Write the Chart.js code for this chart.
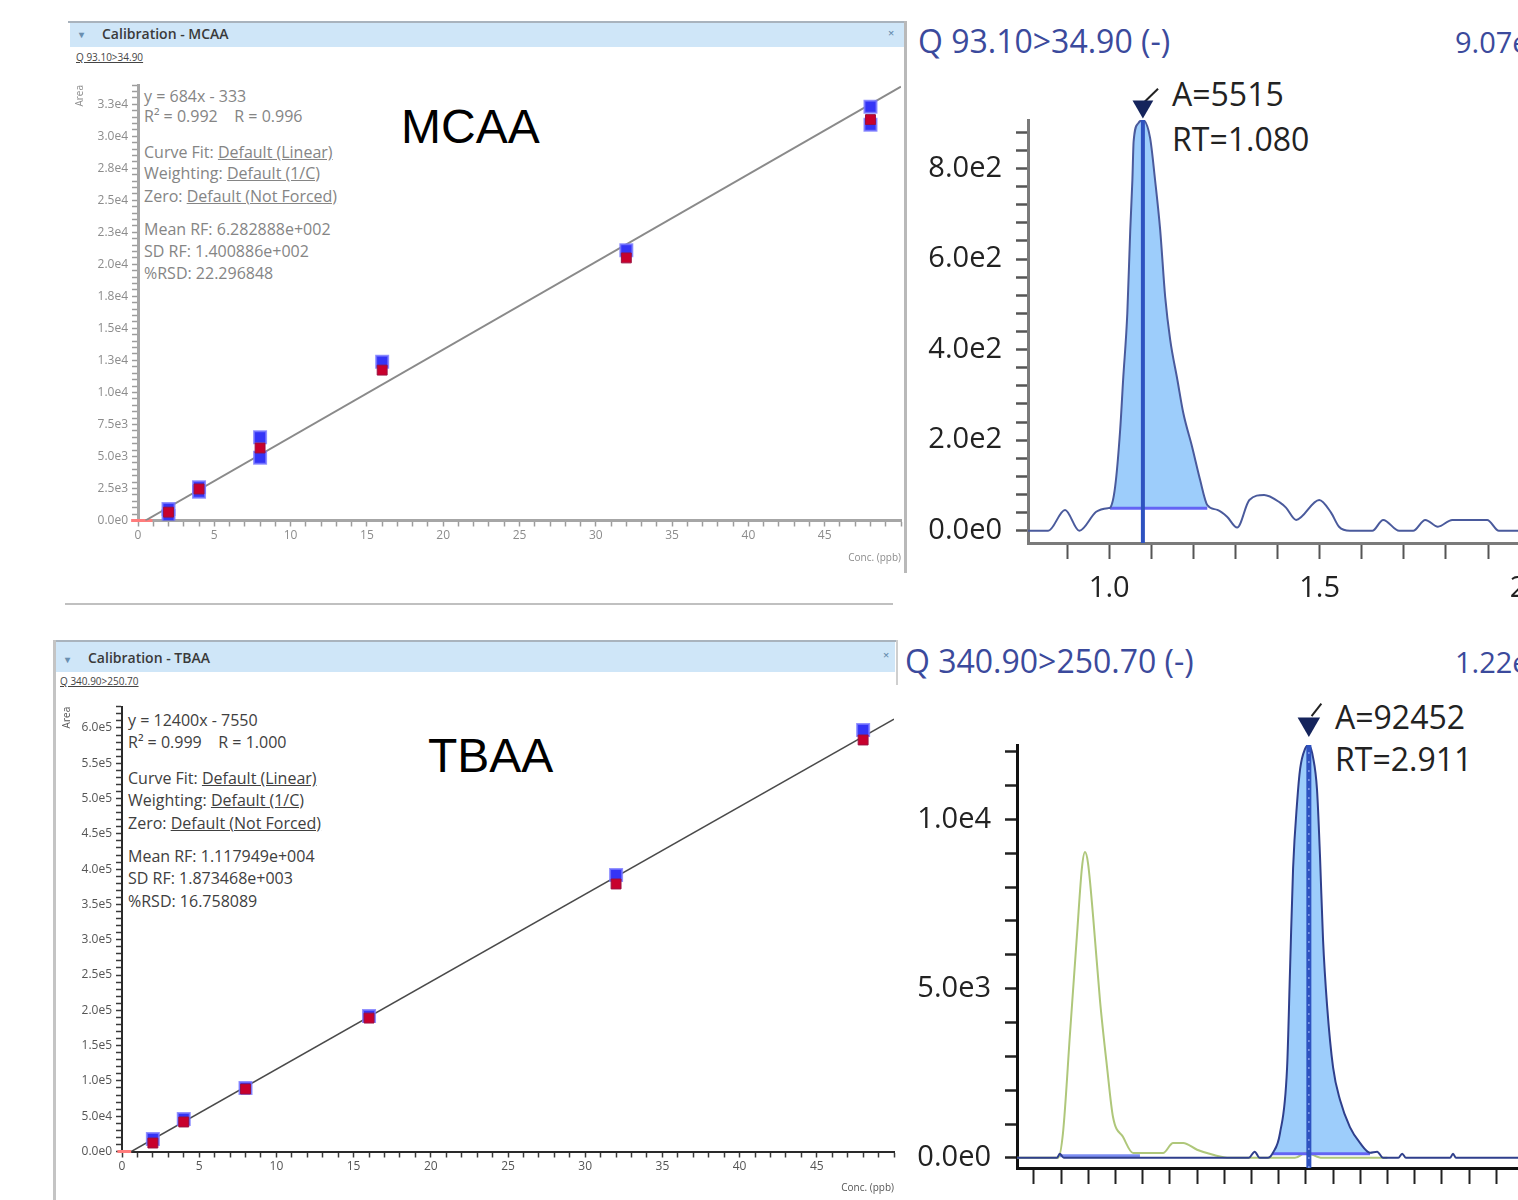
<!DOCTYPE html>
<html>
<head>
<meta charset="utf-8">
<title>MCAA / TBAA calibration and chromatograms</title>
<script src="https://cdn.jsdelivr.net/npm/chart.js@4.4.1/dist/chart.umd.min.js"></script>
<style>
  html, body { margin: 0; padding: 0; background: #fff; }
  #page { position: relative; width: 1518px; height: 1200px; overflow: hidden; font-family: 'Open Sans', sans-serif; }
  #page canvas, .abs { position: absolute; }
  .hdr { font-size: 14px; line-height: 14px; color: #3a3a3a; font-weight: 600; white-space: nowrap; }
  .qsub { font-size: 10px; line-height: 10px; color: #444; text-decoration: underline; white-space: nowrap; }
  .info { font-size: 16px; line-height: 16px; white-space: nowrap; }
  .mcaa-info { color: #858585; }
  .tbaa-info { color: #404040; }
  .big { font-family: 'Liberation Sans', Arial, sans-serif; font-size: 48px; line-height: 48px; color: #000; }
  .chromTitle { font-size: 32px; line-height: 32px; color: #3b4a9c; white-space: nowrap; }
  .peakTxt { font-size: 32px; line-height: 32px; color: #222; white-space: nowrap; }
</style>
</head>
<body>
<div id="page">
  <!-- MCAA calibration panel chrome -->
  <div class="abs" style="left:68px;top:21px;width:838px;height:2px;background:#a9b3bd"></div>
  <div class="abs" style="left:70px;top:23px;width:834px;height:24px;background:#cfe6f8"></div>
  <div class="abs hdr" style="left:79px;top:27px;font-size:10px;color:#6a8fb0">&#9662;</div>
  <div class="abs hdr" style="left:102px;top:27px">Calibration - MCAA</div>
  <div class="abs hdr" style="left:888px;top:26px;font-size:11px;color:#6a8fb0">&#215;</div>
  <div class="abs qsub" style="left:76px;top:52px">Q 93.10&gt;34.90</div>
  <div class="abs" style="left:904px;top:21px;width:3px;height:552px;background:#b9b9b9"></div>
  <div class="abs" style="left:65px;top:603px;width:828px;height:2px;background:#c0c0c0"></div>

  <div class="abs info mcaa-info" style="left:144px;top:87.5px">y = 684x - 333</div>
  <div class="abs info mcaa-info" style="left:144px;top:107.5px">R&sup2; = 0.992 &nbsp;&nbsp; R = 0.996</div>
  <div class="abs info mcaa-info" style="left:144px;top:143.5px">Curve Fit: <u>Default (Linear)</u></div>
  <div class="abs info mcaa-info" style="left:144px;top:164.5px">Weighting: <u>Default (1/C)</u></div>
  <div class="abs info mcaa-info" style="left:144px;top:187.5px">Zero: <u>Default (Not Forced)</u></div>
  <div class="abs info mcaa-info" style="left:144px;top:220.5px">Mean RF: 6.282888e+002</div>
  <div class="abs info mcaa-info" style="left:144px;top:242.5px">SD RF: 1.400886e+002</div>
  <div class="abs info mcaa-info" style="left:144px;top:264.5px">%RSD: 22.296848</div>
  <div class="abs big" style="left:401px;top:102.5px">MCAA</div>

  <!-- TBAA calibration panel chrome -->
  <div class="abs" style="left:53px;top:640px;width:843px;height:2px;background:#a9b3bd"></div>
  <div class="abs" style="left:55px;top:642px;width:840px;height:30px;background:#cfe6f8"></div>
  <div class="abs" style="left:53px;top:640px;width:3px;height:560px;background:#c4c4c4"></div>
  <div class="abs hdr" style="left:65px;top:652px;font-size:10px;color:#6a8fb0">&#9662;</div>
  <div class="abs hdr" style="left:88px;top:651px">Calibration - TBAA</div>
  <div class="abs hdr" style="left:883px;top:648px;font-size:11px;color:#6a8fb0">&#215;</div>
  <div class="abs qsub" style="left:60px;top:676px">Q 340.90&gt;250.70</div>

  <div class="abs info tbaa-info" style="left:128px;top:711.5px">y = 12400x - 7550</div>
  <div class="abs info tbaa-info" style="left:128px;top:733.5px">R&sup2; = 0.999 &nbsp;&nbsp; R = 1.000</div>
  <div class="abs info tbaa-info" style="left:128px;top:769.5px">Curve Fit: <u>Default (Linear)</u></div>
  <div class="abs info tbaa-info" style="left:128px;top:791.5px">Weighting: <u>Default (1/C)</u></div>
  <div class="abs info tbaa-info" style="left:128px;top:814.5px">Zero: <u>Default (Not Forced)</u></div>
  <div class="abs info tbaa-info" style="left:128px;top:847.5px">Mean RF: 1.117949e+004</div>
  <div class="abs info tbaa-info" style="left:128px;top:869.5px">SD RF: 1.873468e+003</div>
  <div class="abs info tbaa-info" style="left:128px;top:892.5px">%RSD: 16.758089</div>
  <div class="abs big" style="left:428px;top:731.5px">TBAA</div>

  <!-- chromatogram captions -->
  <div class="abs chromTitle" style="left:918px;top:25px">Q 93.10&gt;34.90 (-)</div>
  <div class="abs chromTitle" style="left:1455px;top:26px;font-size:29px">9.07e2</div>
  <div class="abs peakTxt" style="left:1172px;top:78px">A=5515</div>
  <div class="abs peakTxt" style="left:1172px;top:123px">RT=1.080</div>
  <div class="abs" style="left:896px;top:640px;width:2px;height:45px;background:#cfcfcf"></div>
  <div class="abs chromTitle" style="left:905px;top:645px">Q 340.90&gt;250.70 (-)</div>
  <div class="abs chromTitle" style="left:1455px;top:646px;font-size:29px">1.22e4</div>
  <div class="abs peakTxt" style="left:1335px;top:701px">A=92452</div>
  <div class="abs peakTxt" style="left:1335px;top:743px">RT=2.911</div>

  <canvas id="mcaaCal" width="850" height="510" style="left:60px;top:70px"></canvas>
  <canvas id="tbaaCal" width="855" height="510" style="left:45px;top:690px"></canvas>
  <canvas id="mcaaChrom" width="700" height="540" style="left:905px;top:70px"></canvas>
  <canvas id="tbaaChrom" width="700" height="550" style="left:895px;top:690px"></canvas>
</div>

<script>
// ---- calibration data (conc in ppb, peak area) ----
const mcaaBlueConc = [2, 2, 4, 4, 8, 8, 16, 32, 48, 48];
const mcaaBlueArea = [900, 350, 2600, 2250, 6500, 4900, 12400, 21100, 32300, 30900];
const mcaaRedConc = [2, 4, 8, 16, 32, 48];
const mcaaRedArea = [650, 2460, 5660, 11740, 20500, 31300];
const mcaaFit = [684, -333];          // slope, intercept

const tbaaBlueConc = [2, 4, 8, 16, 32, 48];
const tbaaBlueArea = [17700, 46000, 90000, 192000, 391800, 597000];
const tbaaRedConc = [2, 4, 8, 16, 32, 48];
const tbaaRedArea = [12000, 41800, 88500, 189000, 379000, 583000];
const tbaaFit = [12400, -7550];

// ---- chromatograms (time in min, intensity) ----
const mcaaTime = [0.807, 0.855, 0.895, 0.929, 0.969, 0.998, 1.002, 1.014, 1.026, 1.033, 1.043, 1.050, 1.055,
  1.058, 1.069, 1.080, 1.097, 1.109, 1.121, 1.133, 1.145, 1.162, 1.176, 1.197, 1.216, 1.233, 1.257, 1.280,
  1.304, 1.333, 1.368, 1.406, 1.420, 1.444, 1.499, 1.527, 1.546, 1.572, 1.625, 1.651, 1.689, 1.722, 1.751,
  1.781, 1.815, 1.898, 1.926, 2.000, 2.200];
const mcaaIntensity = [0, 0, 46, 0, 42, 50, 51, 97, 223, 333, 481, 665, 774,
  860, 900, 907, 868, 774, 665, 516, 421, 333, 260, 185, 112, 57, 46, 31,
  7, 68, 79, 62, 51, 24, 68, 40, 9, 0, 0, 24, 0, 0, 24,
  9, 24, 24, 0, 0, 0];
const mcaaPeak = [1.002, 1.233, 50];  // start, end, baseline level
const mcaaRT = 1.080;
const mcaaMarker = [937];
const mcaaCheckTime = [1.083, 1.116];
const mcaaCheckInt = [946, 976];

const tbaaTime = [1.838, 1.985, 1.995, 2.010, 2.690, 2.712, 2.730, 2.760, 2.779, 2.805, 2.831, 2.842, 2.853,
  2.868, 2.879, 2.897, 2.911, 2.926, 2.941, 2.952, 2.963, 2.978, 3.000, 3.026, 3.062, 3.099, 3.136, 3.162,
  3.184, 3.240, 3.254, 3.268, 3.430, 3.441, 3.452, 4.000];
const tbaaIntensity = [0, 0, 120, 0, 0, 180, 0, 0, 150, 735, 2675, 5615, 8555,
  10525, 11500, 12085, 12200, 11850, 10880, 8910, 6470, 4500, 2675, 1700, 910, 440, 150, 180,
  0, 0, 120, 0, 0, 120, 0, 0];
const tbaaGreenTime = [1.838, 1.989, 2.007, 2.033, 2.059, 2.077, 2.088, 2.099, 2.118, 2.143, 2.169, 2.191,
  2.228, 2.265, 2.375, 2.412, 2.449, 2.500, 2.559, 2.620, 2.860, 2.900, 2.960, 3.200];
const tbaaGreenIntensity = [0, 0, 733, 3688, 6643, 8593, 9036, 8711, 7116, 4663, 2683, 1206,
  615, 142, 142, 440, 440, 240, 90, 0, 0, 150, 0, 0];
const tbaaPeak = [2.779, 3.136, 120];
const tbaaRT = 2.911;
const tbaaMarker = [12820];
const tbaaCheckTime = [2.921, 2.957];
const tbaaCheckInt = [13050, 13420];
const tbaaSideBaseTime = [1.996, 2.290];
const tbaaSideBaseInt = [60, 60];

Chart.defaults.font.family = "'Open Sans', sans-serif";
Chart.defaults.animation = false;
Chart.defaults.plugins.legend.display = false;
Chart.defaults.plugins.tooltip.enabled = false;

function zip(xs, ys) {
    return xs.map((x, i) => ({ x: x, y: ys[i] }));
}

function sciLabel(v) {
    return v.toExponential(1).replace('+', '');
}

// ticks on every multiple of step inside the axis range
function stepTicks(step) {
    return scale => {
        const first = Math.ceil(scale.min / step - 1e-9);
        const last = Math.floor(scale.max / step + 1e-9);
        const out = [];
        for (let i = first; i <= last; i++) out.push({ value: +(i * step).toFixed(6) });
        scale.ticks = out;
    };
}

// keep the axis boxes at a fixed size, no extra label overhang padding
function fixX(h) {
    return s => { s.height = h; s.paddingLeft = 0; s.paddingRight = 0; };
}
function fixY(w) {
    return s => { s.width = w; s.paddingTop = 0; s.paddingBottom = 0; };
}

function calibrationChart(id, c) {
    const fitStart = -c.fit[1] / c.fit[0];
    const fitLine = [{ x: fitStart, y: 0 }, { x: 50, y: c.fit[0] * 50 + c.fit[1] }];
    return new Chart(document.getElementById(id), {
        type: 'scatter',
        data: {
            datasets: [{
                data: zip(c.redX, c.redY),
                pointStyle: 'rect', pointRadius: 7,
                pointBackgroundColor: '#c8002d', pointBorderColor: '#9a1040', pointBorderWidth: 1,
                order: 0
            }, {
                data: zip(c.blueX, c.blueY),
                pointStyle: 'rect', pointRadius: 8.5,
                pointBackgroundColor: '#3434f6', pointBorderColor: 'rgba(120,120,255,0.8)', pointBorderWidth: 2,
                order: 1
            }, {
                data: fitLine, showLine: true, pointRadius: 0,
                borderColor: c.lineColor, borderWidth: c.lineWidth,
                order: 2
            }, {
                data: [{ x: c.originSeg[0], y: 0 }, { x: c.originSeg[1], y: 0 }],
                showLine: true, pointRadius: 0, clip: false,
                borderColor: '#ff7c7c', borderWidth: 3,
                order: 3
            }]
        },
        options: {
            responsive: false,
            layout: { autoPadding: false, padding: { top: c.padTop, right: c.padRight, left: 0, bottom: 0 } },
            scales: {
                x: {
                    type: 'linear', min: 0, max: 50,
                    afterFit: fixX(c.xAxisHeight),
                    afterBuildTicks: stepTicks(1),
                    border: { color: c.axisColor, width: c.axisWidth },
                    grid: { drawOnChartArea: false, tickLength: 6, tickColor: c.tickColor, tickWidth: 1.5 },
                    ticks: {
                        autoSkip: false, maxRotation: 0,
                        padding: 2, color: c.labelColor, font: { size: 12 },
                        callback: v => (v % 5 === 0 && v < 50) ? String(v) : ''
                    },
                    title: {
                        display: true, text: 'Conc. (ppb)', align: 'end', color: c.labelColor,
                        font: { size: 10 }, padding: { top: 0, bottom: c.xTitlePad }
                    }
                },
                y: {
                    type: 'linear', min: 0, max: c.yMax,
                    afterFit: fixY(c.yAxisWidth),
                    afterBuildTicks: stepTicks(c.yMinor),
                    border: { color: c.axisColor, width: c.axisWidth },
                    grid: { drawOnChartArea: false, tickLength: 6, tickColor: c.tickColor, tickWidth: 1.5 },
                    ticks: {
                        autoSkip: false,
                        padding: 4, color: c.labelColor, font: { size: 12 },
                        callback: v => (v % c.yMajor === 0) ? sciLabel(v) : ''
                    },
                    title: {
                        display: true, text: 'Area', align: 'end', color: c.labelColor,
                        font: { size: 10 }, padding: { top: c.yTitlePad, bottom: 0 }
                    }
                }
            }
        }
    });
}

function chromChart(id, c) {
    const trace = zip(c.time, c.intensity);
    const peak = trace.filter(p => p.x >= c.peak[0] && p.x <= c.peak[1]);
    const apex = Math.max(...c.intensity);
    const datasets = [{
        data: [{ x: c.rt, y: c.marker[0] }],
        showLine: false, pointStyle: 'triangle', pointRotation: 180, pointRadius: c.markerR,
        pointBackgroundColor: '#15245c', pointBorderColor: 'rgba(0,0,0,0)', pointBorderWidth: 12,
        clip: false, order: 0
    }, {
        data: zip(c.checkTime, c.checkInt),
        borderColor: '#222', borderWidth: 2, pointRadius: 0, clip: false, order: 0
    }, {
        data: [{ x: c.rt, y: c.yMin }, { x: c.rt, y: apex }],
        borderColor: '#2e52c0', borderWidth: c.rtWidth, pointRadius: 0, order: 1
    }, {
        data: trace, borderColor: c.traceColor, borderWidth: 2, pointRadius: 0,
        cubicInterpolationMode: 'monotone', order: 2
    }, {
        data: [{ x: c.peak[0], y: c.peak[2] }, { x: c.peak[1], y: c.peak[2] }],
        borderColor: '#6464f4', borderWidth: 3, pointRadius: 0, order: 3
    }, {
        data: peak, fill: { value: c.peak[2] }, backgroundColor: '#9dcdfb',
        borderColor: 'transparent', borderWidth: 0, pointRadius: 0,
        cubicInterpolationMode: 'monotone', order: 6
    }];
    if (c.rtDash) {
        datasets.push({
            data: [{ x: c.rt, y: c.yMin }, { x: c.rt, y: apex }],
            borderColor: '#7f9ae6', borderWidth: 1.5, borderDash: [2, 7], pointRadius: 0, order: 0
        });
    }
    (c.extra || []).forEach(e => datasets.push(e));
    return new Chart(document.getElementById(id), {
        type: 'line',
        data: { datasets: datasets },
        options: {
            responsive: false,
            layout: { autoPadding: false, padding: { top: c.padTop, right: 0, left: 0, bottom: 0 } },
            scales: {
                x: {
                    type: 'linear', min: c.xMin, max: c.xMax,
                    afterFit: fixX(c.xAxisHeight),
                    afterBuildTicks: stepTicks(0.1),
                    border: { color: c.axisColor, width: 3 },
                    grid: { drawOnChartArea: false, tickLength: 16, tickColor: c.tickColor, tickWidth: 2 },
                    ticks: {
                        autoSkip: false, maxRotation: 0,
                        padding: c.xLabelPad, color: '#222', font: { size: 29 },
                        callback: v => (Math.round(v * 10) % 5 === 0) ? v.toFixed(1) : ''
                    }
                },
                y: {
                    type: 'linear', min: c.yMin, max: c.yMax,
                    afterFit: fixY(c.yAxisWidth),
                    afterBuildTicks: stepTicks(c.yMinor),
                    border: { color: c.axisColor, width: 3 },
                    grid: { drawOnChartArea: false, tickLength: 12, tickColor: c.tickColor, tickWidth: 2.5 },
                    ticks: {
                        autoSkip: false,
                        padding: 14, color: '#222', font: { size: 29 },
                        callback: v => (Math.round(v) % c.yMajor === 0) ? sciLabel(v) : ''
                    }
                }
            }
        }
    });
}

calibrationChart('mcaaCal', {
    blueX: mcaaBlueConc, blueY: mcaaBlueArea, redX: mcaaRedConc, redY: mcaaRedArea, fit: mcaaFit,
    originSeg: [-0.45, 0.95],
    yMax: 34000, yMinor: 500, yMajor: 2500,
    padTop: 15, padRight: 9, xAxisHeight: 59.5, yAxisWidth: 78,
    xTitlePad: 16, yTitlePad: 14,
    axisColor: '#a6a6a6', axisWidth: 3, tickColor: '#9c9c9c', labelColor: '#8c8c8c',
    lineColor: '#8a8a8a', lineWidth: 2
});

calibrationChart('tbaaCal', {
    blueX: tbaaBlueConc, blueY: tbaaBlueArea, redX: tbaaRedConc, redY: tbaaRedArea, fit: tbaaFit,
    originSeg: [-0.3, 0.6],
    yMax: 630000, yMinor: 10000, yMajor: 50000,
    padTop: 16.8, padRight: 6, xAxisHeight: 48.5, yAxisWidth: 77,
    xTitlePad: 6, yTitlePad: 16,
    axisColor: '#2a2a2a', axisWidth: 2, tickColor: '#3a3a3a', labelColor: '#555',
    lineColor: '#4a4a4a', lineWidth: 1.5
});

chromChart('mcaaChrom', {
    time: mcaaTime, intensity: mcaaIntensity, peak: mcaaPeak, rt: mcaaRT,
    marker: mcaaMarker, markerR: 12, checkTime: mcaaCheckTime, checkInt: mcaaCheckInt,
    xMin: 0.807, xMax: 2.178, yMin: -27, yMax: 907, yMinor: 40, yMajor: 200,
    padTop: 50, xAxisHeight: 67, yAxisWidth: 123, xLabelPad: 12,
    axisColor: '#7a7a7a', tickColor: '#555', traceColor: '#4a5a9c', rtWidth: 4
});

chromChart('tbaaChrom', {
    time: tbaaTime, intensity: tbaaIntensity, peak: tbaaPeak, rt: tbaaRT,
    marker: tbaaMarker, markerR: 13, checkTime: tbaaCheckTime, checkInt: tbaaCheckInt,
    xMin: 1.838, xMax: 3.963, yMin: -300, yMax: 12200, yMinor: 1000, yMajor: 5000,
    padTop: 55, xAxisHeight: 72, yAxisWidth: 122, xLabelPad: 24,
    axisColor: '#111', tickColor: '#222', traceColor: '#2f3f8c', rtWidth: 5, rtDash: true,
    extra: [{
        data: zip(tbaaGreenTime, tbaaGreenIntensity), borderColor: '#afc77a', borderWidth: 2,
        pointRadius: 0, cubicInterpolationMode: 'monotone', order: 5
    }, {
        data: zip(tbaaSideBaseTime, tbaaSideBaseInt), borderColor: '#7d8ef2', borderWidth: 3,
        pointRadius: 0, order: 4
    }]
});
</script>
</body>
</html>
